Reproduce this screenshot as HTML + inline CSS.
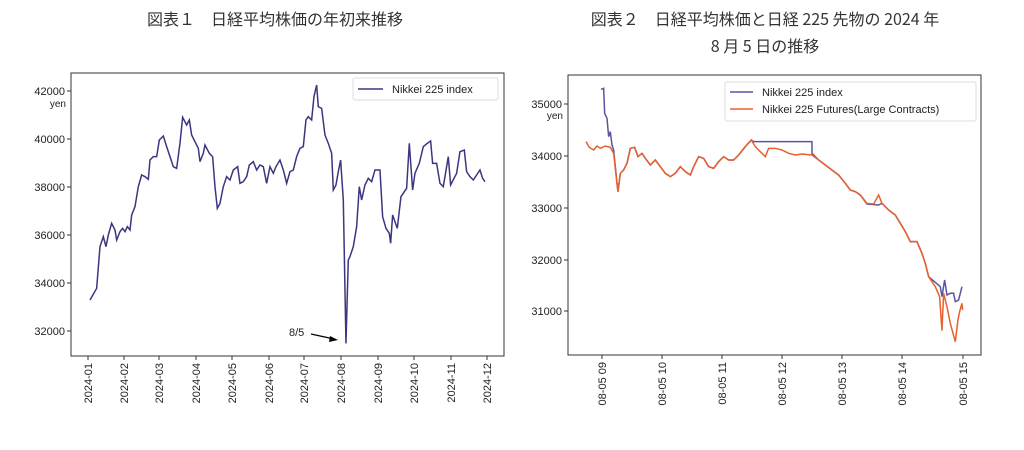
<!DOCTYPE html>
<html><head><meta charset="utf-8"><style>
body{margin:0;width:1024px;height:450px;background:#fff;overflow:hidden;font-family:"Liberation Sans","Noto Sans CJK JP",sans-serif}
.t{position:absolute;font-size:16px;color:#333;text-align:center;font-family:"Noto Sans CJK JP","Liberation Sans",sans-serif;line-height:27px}
svg{position:absolute;left:0;top:0}
text{font-family:"Liberation Sans",sans-serif;fill:#222}
</style></head><body>
<div class="t" style="left:60px;top:5px;width:430px">図表１　日経平均株価の年初来推移</div>
<div class="t" style="left:540px;top:5px;width:450px">図表２　日経平均株価と日経 225 先物の 2024 年<br>8 月 5 日の推移</div>
<svg width="1024" height="450">
<g fill="none" stroke="#333" stroke-width="1">
<rect x="71" y="73" width="433" height="283"/>
<rect x="568" y="75" width="413" height="280"/>
</g>
<!-- left y ticks -->
<g font-size="11" text-anchor="end">
<g stroke="#333"><line x1="67" x2="71" y1="91" y2="91"/><line x1="67" x2="71" y1="139" y2="139"/><line x1="67" x2="71" y1="187" y2="187"/><line x1="67" x2="71" y1="235" y2="235"/><line x1="67" x2="71" y1="283" y2="283"/><line x1="67" x2="71" y1="331" y2="331"/></g>
<text x="65" y="95">42000</text><text x="65" y="143">40000</text><text x="65" y="191">38000</text><text x="65" y="239">36000</text><text x="65" y="287">34000</text><text x="65" y="335">32000</text>
<text x="66" y="107" font-size="10">yen</text>
</g>
<g font-size="11" text-anchor="end">
<g stroke="#333"><line x1="564" x2="568" y1="104" y2="104"/><line x1="564" x2="568" y1="156" y2="156"/><line x1="564" x2="568" y1="208" y2="208"/><line x1="564" x2="568" y1="260" y2="260"/><line x1="564" x2="568" y1="311" y2="311"/></g>
<text x="562" y="108">35000</text><text x="562" y="160">34000</text><text x="562" y="212">33000</text><text x="562" y="264">32000</text><text x="562" y="315">31000</text>
<text x="563" y="119" font-size="10">yen</text>
</g>
<!-- left x ticks -->
<g font-size="11" text-anchor="end" stroke="none">
<g stroke="#333"><line x1="88" x2="88" y1="356" y2="360"/><line x1="124" x2="124" y1="356" y2="360"/><line x1="159" x2="159" y1="356" y2="360"/><line x1="196" x2="196" y1="356" y2="360"/><line x1="232" x2="232" y1="356" y2="360"/><line x1="269" x2="269" y1="356" y2="360"/><line x1="304" x2="304" y1="356" y2="360"/><line x1="341" x2="341" y1="356" y2="360"/><line x1="378" x2="378" y1="356" y2="360"/><line x1="414" x2="414" y1="356" y2="360"/><line x1="451" x2="451" y1="356" y2="360"/><line x1="487" x2="487" y1="356" y2="360"/></g>
<text transform="translate(92,363) rotate(-90)">2024-01</text>
<text transform="translate(128,363) rotate(-90)">2024-02</text>
<text transform="translate(163,363) rotate(-90)">2024-03</text>
<text transform="translate(200,363) rotate(-90)">2024-04</text>
<text transform="translate(236,363) rotate(-90)">2024-05</text>
<text transform="translate(273,363) rotate(-90)">2024-06</text>
<text transform="translate(308,363) rotate(-90)">2024-07</text>
<text transform="translate(345,363) rotate(-90)">2024-08</text>
<text transform="translate(382,363) rotate(-90)">2024-09</text>
<text transform="translate(418,363) rotate(-90)">2024-10</text>
<text transform="translate(455,363) rotate(-90)">2024-11</text>
<text transform="translate(491,363) rotate(-90)">2024-12</text>
</g>
<g font-size="11" text-anchor="end">
<g stroke="#333"><line x1="602" x2="602" y1="355" y2="359"/><line x1="662" x2="662" y1="355" y2="359"/><line x1="722" x2="722" y1="355" y2="359"/><line x1="782" x2="782" y1="355" y2="359"/><line x1="842" x2="842" y1="355" y2="359"/><line x1="902" x2="902" y1="355" y2="359"/><line x1="963" x2="963" y1="355" y2="359"/></g>
<text transform="translate(606,362) rotate(-90)">08-05 09</text>
<text transform="translate(666,362) rotate(-90)">08-05 10</text>
<text transform="translate(726,362) rotate(-90)">08-05 11</text>
<text transform="translate(786,362) rotate(-90)">08-05 12</text>
<text transform="translate(846,362) rotate(-90)">08-05 13</text>
<text transform="translate(906,362) rotate(-90)">08-05 14</text>
<text transform="translate(967,362) rotate(-90)">08-05 15</text>
</g>
<!-- left series -->
<g transform="translate(0,60) scale(0.3333)">
<polyline fill="none" stroke="#3b3680" stroke-width="1.5" vector-effect="non-scaling-stroke" points="270,720 290,685 300,560 310,530 318,560 325,525 335,490 345,510 350,540 360,515 368,505 375,515 382,500 390,510 395,465 405,440 415,380 425,345 435,350 445,358 450,300 460,290 470,290 478,240 490,228 500,260 510,290 520,320 530,325 540,250 548,172 560,195 568,180 575,225 585,245 595,265 600,305 610,280 615,255 628,280 638,290 645,380 652,445 660,430 670,380 680,350 690,360 700,330 713,320 720,370 730,365 740,350 748,315 760,305 770,330 780,315 790,320 800,370 810,320 820,340 828,320 840,300 850,330 860,370 870,335 880,330 890,290 900,265 910,260 918,180 925,170 935,180 942,110 950,75 955,140 965,145 975,225 985,250 995,280 1000,390 1008,375 1015,335 1022,300 1030,420 1038,850 1045,600 1050,590 1060,560 1070,500 1078,380 1085,420 1095,375 1105,355 1115,365 1125,330 1140,330 1148,470 1158,505 1168,520 1172,550 1178,465 1192,505 1203,410 1220,385 1228,250 1238,390 1245,340 1258,310 1270,260 1282,250 1292,243 1298,310 1310,310 1320,370 1330,380 1345,290 1352,375 1370,340 1380,275 1393,270 1400,335 1410,350 1420,360 1430,345 1440,330 1448,355 1455,365"/>
</g>
<text x="289" y="336" font-size="11">8/5</text>
<line x1="311" y1="334" x2="334" y2="339" stroke="#000" stroke-width="1.2"/>
<polygon points="338,340 330,336 329,342" fill="#000"/>
<!-- left legend -->
<rect x="353" y="78" width="145" height="22" fill="#fff" stroke="#ddd" rx="2"/>
<line x1="358" y1="89" x2="383" y2="89" stroke="#3b3680" stroke-width="1.5"/>
<text x="392" y="93" font-size="11">Nikkei 225 index</text>
<!-- right series -->
<g transform="translate(512,60) scale(0.3333)" fill="none" stroke-width="1.5">
<polyline stroke="#5a55a0" vector-effect="non-scaling-stroke" points="267,88 275,85 278,160 285,175 290,230 295,215 300,255 305,270 315,370 318,395 325,340 335,330 345,310 355,265 368,262 378,290 390,280 400,295 415,315 430,300 445,320 460,340 475,350 490,340 505,320 520,335 535,345 545,320 560,290 575,295 590,320 605,325 620,305 635,290 650,300 665,300 680,285 700,260 718,240 725,245 900,245 900,280 920,300 940,315 960,330 980,345 1000,370 1015,390 1030,395 1045,405 1065,432 1100,435 1110,430 1130,450 1150,465 1165,490 1180,515 1195,545 1215,545 1230,580 1240,610 1250,650 1285,680 1290,710 1298,660 1305,705 1315,700 1325,700 1330,725 1340,720 1350,680"/>
<polyline stroke="#e8602c" vector-effect="non-scaling-stroke" points="222,245 232,262 245,270 255,258 265,265 280,258 295,262 305,280 315,370 318,395 325,340 335,330 345,310 355,265 368,262 378,290 390,280 400,295 415,315 430,300 445,320 460,340 475,350 490,340 505,320 520,335 535,345 545,320 560,290 575,295 590,320 605,325 620,305 635,290 650,300 665,300 680,285 700,260 718,240 730,260 745,275 760,290 770,265 790,265 810,270 830,280 850,285 870,282 900,285 920,300 940,315 960,330 980,345 1000,370 1015,390 1030,395 1045,405 1065,430 1085,432 1100,405 1110,430 1130,450 1150,465 1165,490 1180,515 1195,545 1215,545 1230,580 1240,610 1250,650 1270,680 1283,710 1290,812 1295,700 1305,740 1315,790 1330,845 1338,780 1343,755 1350,730 1352,750"/>
</g>
<!-- right legend -->
<rect x="725" y="82" width="251" height="39" fill="#fff" stroke="#ddd" rx="2"/>
<line x1="730" y1="92" x2="753" y2="92" stroke="#5a55a0" stroke-width="1.5"/>
<text x="762" y="96" font-size="11">Nikkei 225 index</text>
<line x1="730" y1="109" x2="753" y2="109" stroke="#e8602c" stroke-width="1.5"/>
<text x="762" y="113" font-size="11">Nikkei 225 Futures(Large Contracts)</text>
</svg>
</body></html>
